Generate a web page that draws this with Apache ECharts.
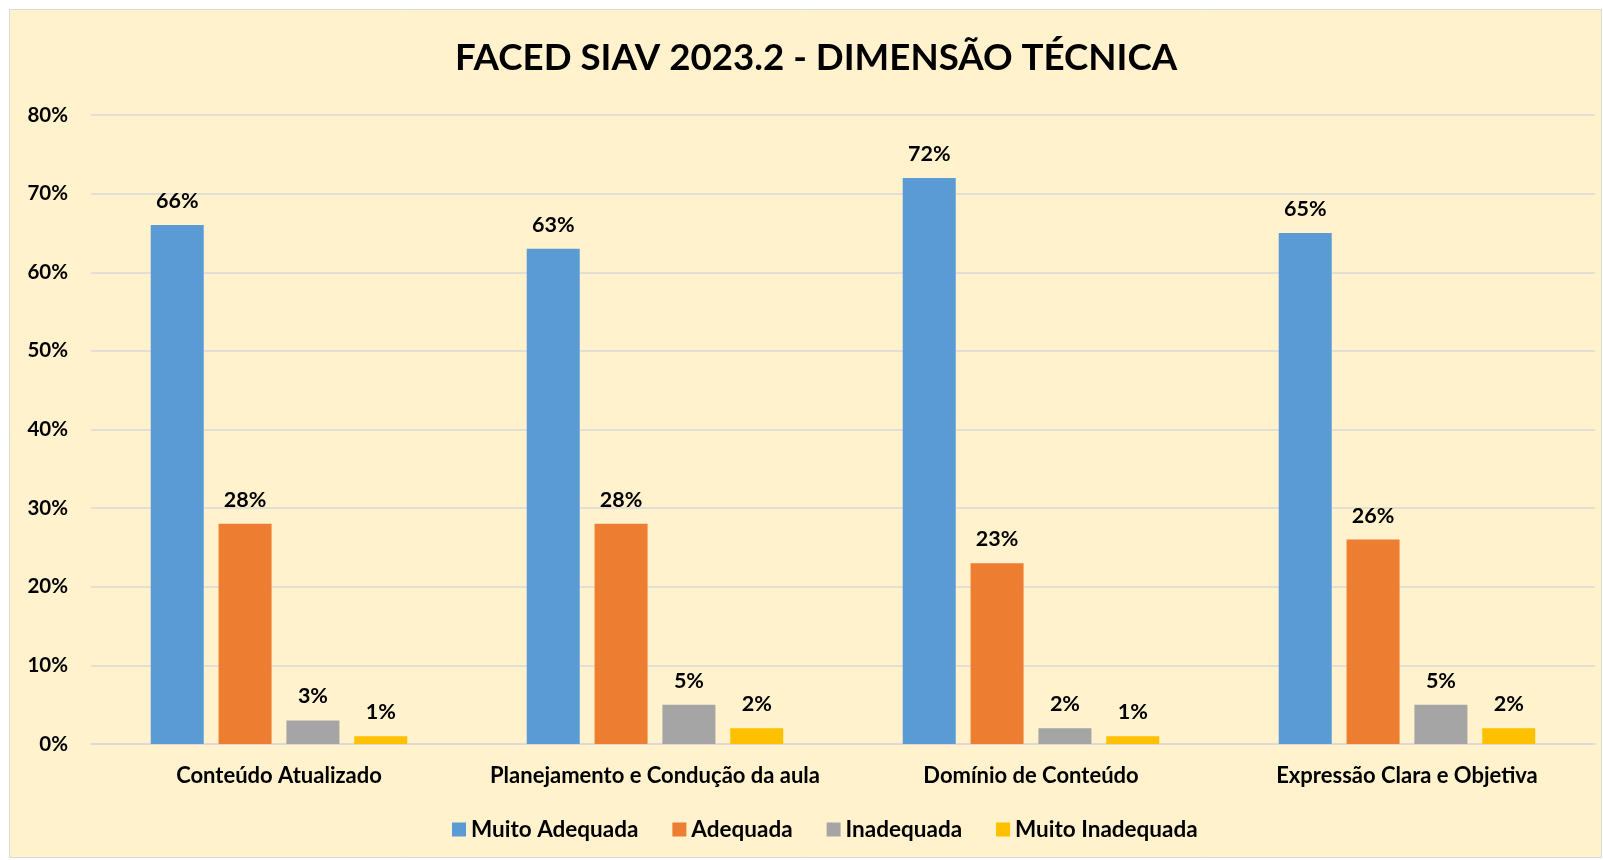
<!DOCTYPE html>
<html>
<head>
<meta charset="utf-8">
<title>FACED SIAV 2023.2 - DIMENSÃO TÉCNICA</title>
<script src="https://cdn.jsdelivr.net/npm/echarts@6/dist/echarts.min.js"></script>
<style>
  html, body { margin: 0; padding: 0; background: #ffffff; }
  #chart { width: 1603px; height: 860px; }
</style>
</head>
<body>
<div id="chart"></div>
<script>
// dados (em %)
var categorias = ['Conteúdo Atualizado', 'Planejamento e Condução da aula', 'Domínio de Conteúdo', 'Expressão Clara e Objetiva'];
var muitoAdequada = [66, 63, 72, 65];
var adequada = [28, 28, 23, 26];
var inadequada = [3, 5, 2, 5];
var muitoInadequada = [1, 2, 1, 2];
var nomesSeries = ['Muito Adequada', 'Adequada', 'Inadequada', 'Muito Inadequada'];
var cores = ['#5B9BD5', '#ED7D31', '#A5A5A5', '#FFC000'];

var fonte = 'Lato';
var myChart = echarts.init(document.getElementById('chart'));

function serie(nome, dados) {
    return {
        name: nome,
        type: 'bar',
        barWidth: 53,
        barGap: '28%',
        data: dados,
        label: {
            show: true,
            position: 'top',
            distance: 13,
            formatter: '{c}%',
            color: '#000',
            fontFamily: fonte,
            fontWeight: 'bold',
            fontSize: 21.5
        }
    };
}

myChart.setOption({
    backgroundColor: '#ffffff',
    color: cores,
    animation: false,
    graphic: [{
        type: 'rect',
        z: -10,
        shape: { x: 9.5, y: 9.5, width: 1592, height: 848 },
        style: { fill: '#FFF2CC', stroke: '#D9D9D9', lineWidth: 1 }
    }],
    title: {
        text: 'FACED SIAV 2023.2 - DIMENSÃO TÉCNICA',
        left: 450,
        top: 35,
        textStyle: {
            fontFamily: fonte,
            fontWeight: 'bold',
            fontSize: 36.7,
            color: '#000'
        }
    },
    legend: {
        data: nomesSeries,
        bottom: 14,
        left: 447,
        icon: 'rect',
        itemWidth: 14,
        itemHeight: 14,
        itemGap: 34,
        textStyle: {
            fontFamily: fonte,
            fontWeight: 'bold',
            fontSize: 22.5,
            color: '#000'
        }
    },
    grid: {
        left: 91,
        right: 8,
        top: 115,
        bottom: 116,
        containLabel: false
    },
    xAxis: {
        type: 'category',
        data: categorias,
        axisTick: { show: false },
        axisLine: { lineStyle: { color: '#D9D9D9', width: 1.5 } },
        axisLabel: {
            interval: 0,
            margin: 21,
            color: '#000',
            fontFamily: fonte,
            fontWeight: 'bold',
            fontSize: 22
        }
    },
    yAxis: {
        type: 'value',
        min: 0,
        max: 80,
        interval: 10,
        axisLine: { show: false },
        axisTick: { show: false },
        splitLine: { lineStyle: { color: '#D9D9D9', width: 1.5 } },
        axisLabel: {
            formatter: '{value}%',
            margin: 23,
            color: '#000',
            fontFamily: fonte,
            fontWeight: 'bold',
            fontSize: 20.5
        }
    },
    series: [
        serie(nomesSeries[0], muitoAdequada),
        serie(nomesSeries[1], adequada),
        serie(nomesSeries[2], inadequada),
        serie(nomesSeries[3], muitoInadequada)
    ]
});
</script>
</body>
</html>
